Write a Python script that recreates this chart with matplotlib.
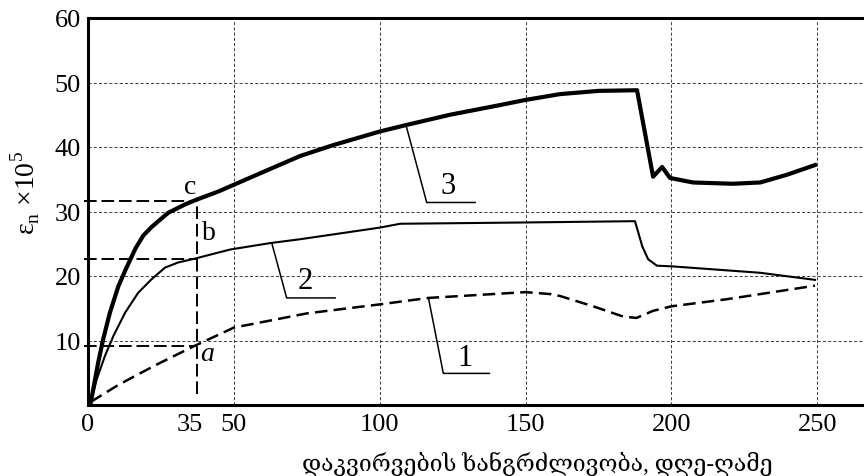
import matplotlib
matplotlib.use("Agg")
import matplotlib.pyplot as plt

plt.rcParams['font.family'] = ['Liberation Serif', 'DejaVu Serif']
plt.rcParams['mathtext.fontset'] = 'custom'
plt.rcParams['mathtext.rm'] = 'Liberation Serif'

# curve 1 (dashed)
x1 = [1, 10, 16.1, 25, 36.7, 50, 75, 100, 116.7, 150, 158.4, 161.8, 173.2, 183.5, 188, 193.7, 200, 219, 249.2]
y1 = [0.5, 3.0, 4.5, 6.6, 9.2, 12.0, 14.2, 15.6, 16.6, 17.5, 17.2, 16.9, 15.3, 13.7, 13.5, 14.6, 15.3, 16.4, 18.5]

# curve 2 (thin solid)
x2 = [1, 3.0, 5.8, 8.7, 12.7, 17.2, 21.8, 26.4, 30.9, 36.7, 40.1, 48.7, 62.4, 72.7, 100, 107, 150, 187.5, 190, 192, 195, 200, 230.4, 249.2]
y2 = [0.5, 4.0, 7.6, 10.7, 14.3, 17.4, 19.5, 21.3, 22.1, 22.7, 23.1, 24.1, 25.1, 25.7, 27.5, 28.1, 28.3, 28.5, 24.6, 22.6, 21.6, 21.5, 20.5, 19.4]

# curve 3 (thick)
x3 = [1, 3.5, 5.2, 7.5, 10.4, 12.9, 16.3, 19.0, 21.8, 27.5, 33.3, 36.7, 44.7, 53.8, 72.7, 84.1, 100, 109, 124.1, 141.2, 150, 161.8, 175, 188.2,
      193.7, 196.8, 199.5, 207.4, 221, 230.4, 239.6, 249.2]
y3 = [0.5, 6.6, 10.2, 14.3, 18.4, 21.0, 24.3, 26.3, 27.6, 29.8, 31.1, 31.75, 33.1, 34.9, 38.6, 40.3, 42.4, 43.4, 45.0, 46.5, 47.3, 48.2, 48.7, 48.8,
      35.4, 36.9, 35.2, 34.5, 34.3, 34.5, 35.7, 37.2]

x_ticks = [0, 35, 50, 100, 150, 200, 250]
y_ticks = [10, 20, 30, 40, 50, 60]
x_grid = [50, 100, 150, 200, 250]
y_grid = [10, 20, 30, 40, 50]

# construction lines a, b, c
x_mark = 37.5
y_a, y_b, y_c = 9.2, 22.6, 31.6

fig = plt.figure(figsize=(8.64, 4.77), dpi=100)
ax = fig.add_axes([88/864, 71/477, 776/864, 387/477])
ax.set_xlim(0, 266)
ax.set_ylim(0, 60)

for gx in x_grid:
    ax.axvline(gx, color='#444444', lw=0.75, dashes=(3, 2), zorder=1)
for gy in y_grid:
    ax.axhline(gy, color='#444444', lw=0.75, dashes=(3, 2), zorder=1)

line_kw = dict(color='black', zorder=3, solid_joinstyle='round', dash_joinstyle='round')
ax.plot(x1, y1, lw=1.8, dashes=(5, 2.5), **line_kw)
ax.plot(x2, y2, lw=1.5, **line_kw)
ax.plot(x3, y3, lw=3.0, **line_kw)

dash_kw = dict(color='black', lw=1.4, dashes=(6.5, 2.5), zorder=2, clip_on=False)
ax.plot([x_mark, x_mark], [1.7, y_c], **dash_kw)
for yy in [y_a, y_b, y_c]:
    ax.plot([-1.2, x_mark], [yy, yy], **dash_kw)

ax.text(35, 33.9, 'c', fontsize=20, ha='center', va='center')
ax.text(41.3, 26.7, 'b', fontsize=20, ha='center', va='center')
ax.text(41.0, 8.0, 'a', fontsize=20, ha='center', va='center', style='italic')

# leader lines to curve numbers
ax.plot([116.7, 121.8, 137.6], [16.6, 4.9, 4.9], color='black', lw=1.1)
ax.text(129.2, 7.3, '1', fontsize=22, ha='center', va='center')
ax.plot([63, 68.1, 84.7], [25.1, 16.6, 16.6], color='black', lw=1.1)
ax.text(74.4, 19.3, '2', fontsize=22, ha='center', va='center')
ax.plot([109, 116.1, 132.7], [43.4, 31.4, 31.4], color='black', lw=1.1)
ax.text(123.5, 34.0, '3', fontsize=22, ha='center', va='center')

ax.set_xticks(x_ticks)
ax.set_yticks(y_ticks)
ax.tick_params(length=0, labelsize=19)
ax.tick_params(axis='x', pad=6)
ax.tick_params(axis='y', pad=5)
for s in ['left', 'bottom', 'top']:
    ax.spines[s].set_linewidth(2.2)
ax.spines['right'].set_visible(False)

fig.text(537/864, 1 - 464/477, 'დაკვირვების ხანგრძლივობა, დღე-ღამე',
         fontsize=16.6, ha='center', va='center')
fig.text(25/864, 1 - 193/477, r'ɛ$_\mathregular{n}$ ×10$^\mathregular{5}$',
         fontsize=20, ha='center', va='center', rotation=90)

fig.savefig('out.png', dpi=100)
